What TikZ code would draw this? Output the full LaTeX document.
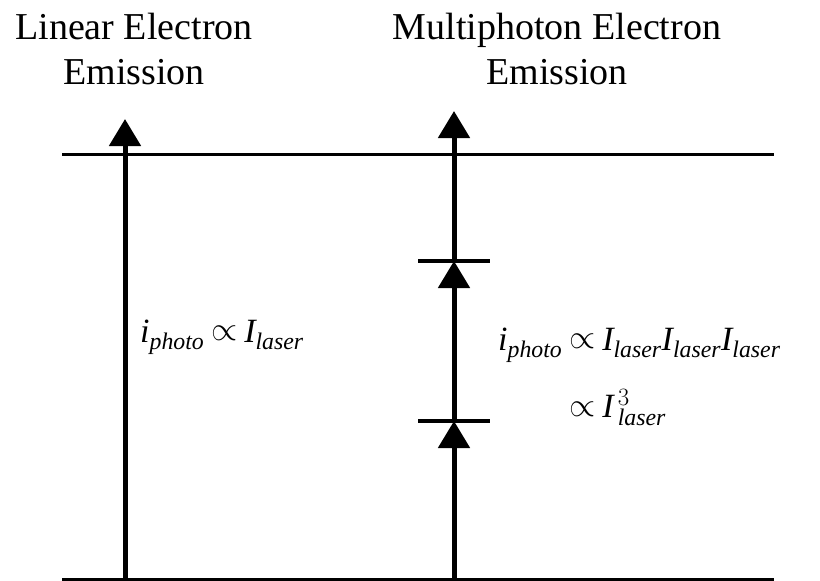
\documentclass[tikz,border=0pt]{standalone}
\usepackage{amsmath}
\usepackage{graphicx}
\usepackage{fontspec}
\setmainfont{Liberation Serif}
\usetikzlibrary{arrows.meta}

\newcommand{\prop}{\mathrel{\raisebox{0.1ex}{\scalebox{1.35}{$\propto$}}}}
\newcommand{\Ilas}{\textit{I}_{\textit{laser}}}

\begin{document}
\begin{tikzpicture}[
    x=1pt, y=-1pt,
    >={Triangle[width=31pt,length=27pt]},
    level/.style={line width=3pt},
    excite/.style={->, line width=5pt},
    stepline/.style={line width=3.5pt},
    title/.style={font=\fontsize{38}{45}\selectfont, align=center, anchor=north, inner sep=0pt},
    formula/.style={font=\fontsize{34}{40}\selectfont, anchor=base west, inner sep=0pt}
]
\useasboundingbox (0,0) rectangle (820,581);

% energy levels
\coordinate (topL) at (62,154);
\coordinate (topR) at (774,154);
\coordinate (botL) at (62,579);
\coordinate (botR) at (774,579);
\draw[level] (topL) -- (topR);
\draw[level] (botL) -- (botR);

% linear emission
\coordinate (linS) at (125,579);
\coordinate (linE) at (125,119);
\draw[excite] (linS) -- (linE);

% multiphoton emission
\coordinate (mpS) at (454,579);
\coordinate (mpA) at (454,421);
\coordinate (mpB) at (454,261);
\coordinate (mpE) at (454,111);
\draw[excite] (mpS) -- (mpA);
\draw[excite] (mpA) -- (mpB);
\draw[excite] (mpB) -- (mpE);
\draw[stepline] ([xshift=-36pt]mpA) -- ([xshift=36pt]mpA);
\draw[stepline] ([xshift=-36pt]mpB) -- ([xshift=36pt]mpB);

% titles
\node[title] (linTitle) at (134,13) {Linear Electron\\Emission};
\node[title] (mpTitle) at (557,13) {Multiphoton Electron\\Emission};

% rates
\node[formula] (linRate) at (140,342)
    {$\textit{i}_{\textit{photo}}\prop\Ilas$};
\node[formula] (mpRate) at (498,350)
    {$\begin{aligned}[t]
        \textit{i}_{\textit{photo}} &\prop \Ilas\Ilas\Ilas\\[22pt]
        &\prop {\textit{I}\mkern3mu}^{3}_{\textit{laser}}
    \end{aligned}$};
\end{tikzpicture}
\end{document}
